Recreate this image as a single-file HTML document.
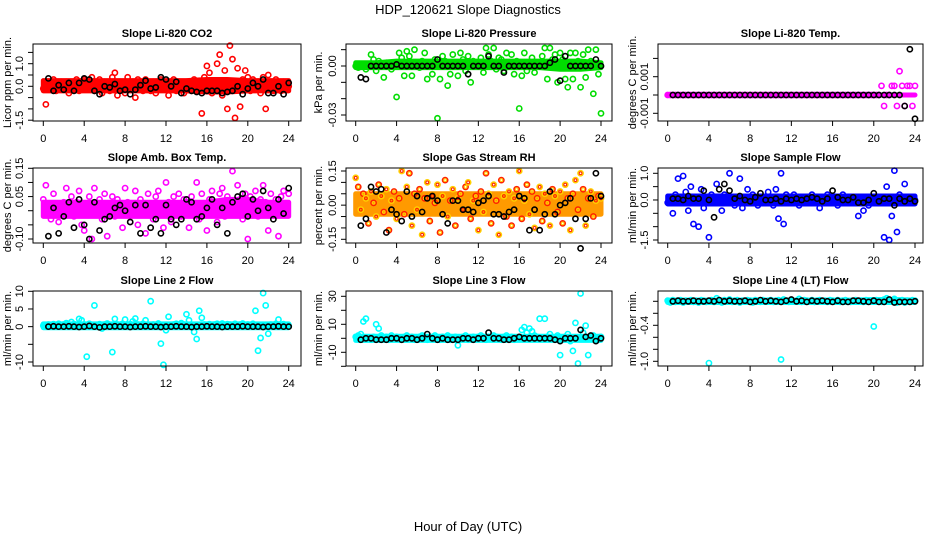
<!DOCTYPE html>
<html><head><meta charset="utf-8"><style>
html,body{margin:0;padding:0;background:#fff;}
svg{display:block;font-family:"Liberation Sans",Arial,sans-serif;}
</style></head><body>
<svg id="chart" width="936" height="540" viewBox="0 0 936 540">
<rect x="0" y="0" width="936" height="540" fill="#fff"/>
<text x="468" y="14" font-size="13" text-anchor="middle">HDP_120621  Slope Diagnostics</text>
<text x="468" y="531" font-size="13" text-anchor="middle">Hour of Day (UTC)</text>
<g id="panels"></g>
</svg>
<script>
// ---- data ----
const xTicks = [0,4,8,12,16,20,24];
const titles = ["Slope Li-820 CO2","Slope Li-820 Pressure","Slope Li-820 Temp.","Slope Amb. Box Temp.","Slope Gas Stream RH","Slope Sample Flow","Slope Line 2 Flow","Slope Line 3 Flow","Slope Line 4 (LT) Flow"];
const yTitles = ["Licor ppm per min.","kPa per min.","degrees C per min.","degrees C per min.","percent per min.","ml/min per min.","ml/min per min.","ml/min per min.","ml/min per min."];
// dense-cloud envelope per panel, at hours 0,2,...,24
const bandHours = [0,2,4,6,8,10,12,14,16,18,20,22,24];
const bandLo = [
[-0.2,-0.2,-0.2,-0.2,-0.2,-0.2,-0.2,-0.2,-0.25,-0.25,-0.2,-0.2,-0.2],
[-0.001,-0.001,-0.001,-0.001,-0.001,-0.001,-0.001,-0.001,-0.001,-0.001,-0.002,-0.002,-0.001],
[0,0,0,0,0,0,0,0,0,0,0,0,0],
[-0.02,-0.02,-0.02,-0.02,-0.02,-0.02,-0.02,-0.02,-0.02,-0.02,-0.02,-0.02,-0.02],
[-0.04,-0.04,-0.04,-0.04,-0.04,-0.04,-0.04,-0.04,-0.04,-0.04,-0.04,-0.04,-0.04],
[-0.15,-0.15,-0.15,-0.15,-0.15,-0.15,-0.15,-0.15,-0.15,-0.15,-0.15,-0.15,-0.15],
[-0.3,-0.3,-0.3,-0.3,-0.3,-0.3,-0.3,-0.3,-0.3,-0.3,-0.3,-0.3,-0.3],
[-1.5,-1.5,-1.5,-1.5,-1.5,-1.5,-1.5,-1.5,-1.5,-1.5,-1.5,-1.5,-1.5],
[-0.02,-0.02,-0.02,-0.02,-0.02,-0.02,-0.02,-0.02,-0.02,-0.02,-0.02,-0.02,-0.02]];
const bandHi = [
[0.25,0.25,0.25,0.25,0.25,0.25,0.25,0.25,0.3,0.3,0.25,0.25,0.25],
[0.002,0.002,0.003,0.003,0.003,0.003,0.003,0.003,0.003,0.003,0.003,0.003,0.002],
[0,0,0,0,0,0,0,0,0,0,0,0,0],
[0.03,0.03,0.03,0.03,0.03,0.03,0.03,0.03,0.03,0.04,0.04,0.03,0.03],
[0.05,0.05,0.05,0.05,0.05,0.05,0.05,0.05,0.05,0.05,0.05,0.05,0.05],
[0.15,0.15,0.15,0.15,0.15,0.15,0.15,0.15,0.15,0.15,0.15,0.15,0.15],
[0.8,0.8,0.8,0.8,0.8,0.8,0.8,0.8,0.8,0.8,0.8,0.8,0.8],
[1.5,1.5,1.5,1.5,1.5,1.5,1.5,1.5,1.5,1.5,1.5,1.5,1.5],
[0.02,0.02,0.02,0.02,0.02,0.02,0.02,0.02,0.02,0.02,0.03,0.03,0.02]];
// colored series sampled every 0.25 h, black series every 0.5 h starting 0.5
const co2Vals = [-0.1,-0.8,0.2,0.1,0.3,-0.2,0.1,0.2,-0.1,0.2,-0.3,0.1,0.2,0.3,-0.2,0.1,
0.3,-0.1,0.2,0.4,-0.2,0.1,0.3,-0.3,0.2,0.1,-0.2,0.4,0.6,-0.4,0.2,0.1,
-0.3,0.4,-0.1,0.2,-0.5,0.3,0.1,-0.2,0.3,0.1,-0.2,0.2,-0.3,0.1,0.3,-0.1,
0.2,-0.4,0.1,0.3,-0.2,0.2,0.1,-0.3,0.2,0.1,-0.2,0.3,0.1,-0.2,-1.2,0.4,
0.9,0.6,-0.3,0.2,1.0,1.4,-0.4,0.7,-1.0,1.8,1.2,-1.4,0.8,-0.9,0.3,0.7,
0.4,-0.2,0.3,0.1,0.2,-0.3,0.4,-1.0,0.5,0.1,-0.2,0.3,0.1,-0.2,0.2,-0.1,0.0];
const co2Black = [0.35,-0.2,0.05,-0.15,0.15,-0.2,0.15,0.35,0.3,-0.2,-0.35,0.0,-0.05,0.1,-0.2,-0.15,-0.35,-0.15,0.05,0.25,-0.1,-0.05,0.4,0.3,0.0,0.2,-0.3,-0.1,-0.2,-0.25,-0.3,-0.2,-0.2,-0.2,-0.3,-0.25,-0.2,0.0,-0.35,-0.1,0.15,0.0,0.3,-0.3,-0.3,0.0,-0.35,0.15];
const presVals = [0.000,-0.001,0.001,0.000,-0.002,0.001,0.007,0.004,-0.003,0.003,0.000,-0.007,0.002,0.001,-0.002,0.001,
-0.019,0.008,0.005,-0.006,0.009,0.006,-0.006,0.010,0.002,-0.001,0.003,0.008,-0.008,0.002,-0.005,0.004,
-0.032,-0.008,0.006,0.003,-0.012,-0.005,0.007,0.002,-0.006,0.008,0.004,-0.003,0.006,-0.010,0.003,0.001,
0.002,0.005,-0.004,0.011,0.007,0.003,0.011,-0.002,0.005,0.004,-0.003,0.008,0.002,0.007,-0.005,0.003,
-0.026,-0.006,0.008,-0.003,0.002,0.005,-0.004,0.001,0.002,0.006,0.011,-0.008,0.011,0.004,0.007,-0.010,
0.008,0.004,-0.008,-0.013,0.008,-0.008,0.008,0.003,-0.013,0.007,-0.007,0.010,0.003,-0.017,0.010,-0.005,-0.029];
const presBlack = [-0.007,-0.008,0,0,0,0,0,0.001,0,0,0,0,0,0,0,0.004,0,0,0,0,0,-0.005,0,0,0,0.006,0,0,-0.004,0,0,0,0,0,0,0,0,0.002,0.004,-0.009,0.006,0,0,0,0,0,0.004,0];
const tempVals = [0,0,0,0,0,0,0,0,0,0,0,0,0,0,0,0,0,0,0,0,0,0,0,0,0,0,0,0,0,0,0,0,0,0,0,0,0,0,0,0,
0,0,0,0,0,0,0,0,0,0,0,0,0,0,0,0,0,0,0,0,0,0,0,0,0,0,0,0,0,0,0,0,0,0,0,0,0,0,0,0,0,0,0,
0.0005,-0.0006,0,0,0.0005,0.0005,-0.0006,0.0013,0.0005,-0.0006,0.0005,0.0005,-0.0006,0.0005];
const tempBlack = [0,0,0,0,0,0,0,0,0,0,0,0,0,0,0,0,0,0,0,0,0,0,0,0,0,0,0,0,0,0,0,0,0,0,0,0,0,0,0,0,0,0,0,0,0,-0.0006,0.0025,-0.0013];
const boxVals = [0.04,0.09,0.02,-0.03,0.06,0.01,-0.04,0.00,0.03,0.08,-0.01,0.05,-0.02,0.03,0.07,-0.05,
-0.07,0.02,0.05,-0.10,0.08,0.00,0.04,-0.03,0.06,-0.09,0.02,0.05,-0.02,0.04,0.01,-0.06,
0.08,0.03,-0.04,0.02,0.07,-0.05,0.04,0.01,-0.08,0.06,0.02,-0.03,0.05,0.07,0.00,-0.06,
0.10,0.03,-0.04,0.05,0.01,0.06,-0.02,0.04,0.03,-0.06,0.05,0.02,0.10,-0.03,0.06,0.01,
-0.07,0.04,0.07,0.02,-0.04,0.06,0.08,-0.02,0.05,0.03,0.14,-0.01,0.09,0.04,-0.03,0.06,
-0.10,0.05,0.02,0.07,-0.02,0.04,0.09,0.03,-0.07,0.06,0.01,0.04,-0.09,0.05,0.07,0.02,0.06];
const boxBlack = [-0.09,0.01,-0.08,-0.02,0.03,-0.06,0.04,-0.05,-0.10,0.03,-0.07,-0.03,-0.02,0.01,0.02,0.00,-0.04,0.02,-0.08,0.02,-0.06,-0.03,-0.08,0.02,-0.03,-0.05,-0.03,0.04,0.03,-0.03,-0.02,0.01,0.04,-0.05,0.01,-0.08,0.03,0.05,0.06,-0.02,0.04,0.00,0.07,0.01,-0.03,0.04,-0.01,0.08];
const rhVals = [0.12,0.08,-0.02,0.05,0.03,-0.08,0.06,0.01,-0.05,0.09,0.04,-0.03,0.07,-0.11,0.02,0.06,
-0.06,0.03,0.15,-0.04,0.08,0.14,-0.09,0.05,-0.02,0.07,-0.13,0.03,0.10,-0.07,0.04,0.01,
0.09,-0.12,0.04,0.11,-0.05,0.02,0.07,-0.09,0.03,0.05,-0.02,0.08,0.10,-0.06,0.02,0.04,
-0.11,0.06,-0.03,0.14,0.05,-0.08,0.09,0.02,-0.13,0.11,0.04,-0.05,0.06,-0.09,0.03,0.07,
0.15,-0.06,0.02,0.09,-0.04,0.06,-0.10,0.03,0.08,-0.07,0.05,0.01,-0.09,0.07,0.04,-0.03,
0.06,-0.08,0.09,0.03,-0.11,0.05,0.11,-0.02,0.14,0.07,-0.09,0.03,0.06,-0.05,0.02,0.04,0.03];
const rhBlack = [-0.09,-0.06,0.08,0.06,0.07,-0.12,-0.02,-0.04,-0.07,0.06,-0.05,0.04,-0.03,0.03,0.04,0.02,-0.04,-0.08,0.02,0.02,-0.02,-0.02,-0.03,0.01,0.02,0.04,-0.04,-0.04,-0.05,-0.03,-0.02,0.04,0.03,-0.11,-0.02,-0.11,-0.04,0.06,-0.04,0.00,0.01,0.03,-0.06,-0.19,-0.06,0.03,0.14,0.04];
const flowVals = [-0.1,0.1,-0.5,0.2,0.8,-0.1,0.9,0.3,-0.4,0.5,-0.9,0.1,-1.0,0.4,-0.3,0.1,
-1.4,0.2,-0.1,0.6,0.1,-0.4,0.2,-0.1,1.0,0.1,-0.2,0.1,0.8,-0.3,0.1,0.4,
-0.1,0.2,0.1,-0.2,0.1,0.0,-0.1,0.3,0.1,-0.2,0.4,-0.7,1.0,-0.9,0.2,0.1,
-0.1,0.2,0.1,-0.2,0.1,0.0,-0.1,0.1,0.2,-0.1,0.1,-0.3,0.1,-0.1,0.2,-0.1,
0.0,0.1,-0.2,0.1,0.2,-0.1,0.1,-0.1,0.1,0.0,-0.6,0.1,-0.4,0.1,-0.2,0.1,
0.1,-0.1,0.0,0.1,-1.4,0.5,-1.5,-0.6,1.1,-1.2,0.2,0.1,0.6,-0.1,0.1,0.1,0.0];
const flowBlack = [0.05,0.05,0.0,0.15,0.05,0.05,0.35,0.0,-0.65,0.4,0.6,0.35,0.05,0.15,0.0,-0.05,0.1,0.25,0.0,0.0,0.05,-0.05,0.05,0.0,0.05,0.0,0.05,0.1,0.05,-0.05,0.05,0.35,0.1,0.0,0.0,0.1,-0.1,-0.1,0.0,0.25,-0.05,0.05,0.05,-0.2,0.05,-0.05,0.05,-0.05];
const line2Vals = [0.3,0.5,0.6,0.2,0.7,0.4,0.8,0.5,0.6,1.0,0.4,1.3,0.7,0.5,2.2,1.8,
0.6,-8.5,0.8,0.3,6.0,0.5,0.7,-0.5,0.6,0.9,0.4,-7.2,2.2,0.6,0.5,0.8,
2.0,0.4,0.7,1.5,2.3,0.6,0.5,0.8,1.8,0.4,7.2,0.6,0.5,0.9,-4.8,-10.8,
-1.0,2.8,0.5,0.6,0.8,0.4,1.0,0.6,3.5,1.8,0.5,-1.5,-3.5,4.5,2.5,0.6,
0.4,0.7,0.5,0.6,0.8,0.4,0.9,0.5,0.7,0.6,0.4,0.8,0.5,0.6,0.9,0.4,
0.6,0.5,0.8,4.5,-6.8,-3.2,9.5,6.0,-2.0,0.6,0.5,0.8,2.0,0.5,0.7,0.4,0.3];
const line2Black = [0,0.1,0,0,0.1,0,-0.1,0,0.2,0,-0.2,0,0,0.1,0,0,-0.1,0,0,0.1,0,0,-0.1,0,0,0.1,0,0,-0.1,0,0,0.1,0,0,-0.1,0,0,0,0.1,0,0,0,-0.1,0,0,0.1,0,0];
const line3Vals = [1,2,3,12,14,0,-1,1,10,7,2,0,1,-1,2,0,
1,0,-1,1,2,0,1,-1,0,1,2,0,-1,1,0,2,
0,-1,1,0,2,-1,0,1,-5,0,1,2,-1,0,1,0,
1,2,0,-1,1,0,2,1,0,-1,1,2,0,1,-1,0,
0,6,8,4,7,5,2,1,14,0,14,1,3,0,-1,2,
-12,0,1,3,-2,-9,11,-18,32,4,9,-12,1,2,0,-1,1];
const line3Black = [-1,0,0,-1,-1,-1,0,0,-1,0,0,-1,0,3,0,-1,0,-1,-1,-1,0,0,-1,0,0,4,0,0,-1,-1,0,1,0,0,0,0,0,0,-1,-2,0,0,0,6,1,2,-2,0];
const line4Vals = [0.01,-0.02,0.02,-0.01,0.01,0.02,-0.02,0.01,0.00,0.02,-0.01,0.01,-0.02,0.02,0.01,-0.01,
-1.03,0.02,-0.01,0.05,0.01,-0.02,0.02,0.00,0.03,-0.01,0.01,0.02,-0.02,0.01,0.00,0.02,
0.01,-0.02,0.02,0.01,-0.01,0.02,0.00,0.01,0.02,-0.01,0.01,0.02,-0.97,0.03,0.01,-0.01,
0.02,0.00,0.01,0.04,-0.01,0.02,0.01,0.00,0.02,-0.01,0.01,0.02,0.00,0.01,-0.01,0.02,
0.01,0.00,0.02,-0.01,0.01,0.02,0.00,-0.01,0.01,0.02,0.00,0.01,-0.01,0.02,0.01,0.00,
-0.42,0.02,0.01,-0.01,0.03,0.05,0.02,0.00,0.04,-0.02,0.01,0.02,-0.02,0.01,0.00,0.02,0.01];
const line4Black = [0.00,0.01,0.00,0.00,0.01,0.00,0.00,0.01,0.00,0.02,0.00,0.01,0.00,0.00,0.01,-0.01,0.00,0.02,0.00,0.01,0.00,-0.01,0.01,0.03,0.00,0.01,-0.01,0.01,0.00,0.01,0.00,-0.01,0.01,-0.01,-0.01,0.01,0.01,0.00,-0.01,0.01,-0.01,-0.01,0.03,-0.02,-0.01,-0.01,-0.01,0.00];
const yTicks = [[1.5,1.0,0.5,0,-0.5,-1.0,-1.5],[0.01,0,-0.01,-0.02,-0.03],[0.002,0.001,0,-0.001],[0.15,0.10,0.05,0,-0.05,-0.10],[0.15,0.10,0.05,0,-0.05,-0.10,-0.15],[1.0,0.5,0,-0.5,-1.0,-1.5],[10,5,0,-5,-10],[30,20,10,0,-10,-20],[0,-0.2,-0.4,-0.6,-0.8,-1.0]];
const yLabels = [[["1.0",1.0],["0.0",0],["-1.5",-1.5]],[["0.00",0],["-0.03",-0.03]],[["0.001",0.001],["-0.001",-0.001]],[["0.15",0.15],["0.05",0.05],["-0.10",-0.10]],[["0.15",0.15],["0.00",0],["-0.15",-0.15]],[["1.0",1.0],["0.0",0],["-1.5",-1.5]],[["10",10],["5",5],["0",0],["-10",-10]],[["30",30],["10",10],["-10",-10]],[["-0.4",-0.4],["-1.0",-1.0]]];
const colorSeries = [co2Vals,presVals,tempVals,boxVals,rhVals,flowVals,line2Vals,line3Vals,line4Vals];
const blackSeries = [co2Black,presBlack,tempBlack,boxBlack,rhBlack,flowBlack,line2Black,line3Black,line4Black];

// ---- layout ----
const colColors = ["#ff0000","#00dd00","#ff00ff","#ff00ff","rh","#0000ff","#00ffff","#00ffff","#00ffff"];
const colBox = [[33,301,43.3,288.7],[346,612,355.7,601],[658,923,667.7,915]];
const rowBox = [[44,121],[168,243],[291,366]];
const yScale = [[1.0,63.7,0,86.3],[0,66,-0.03,115],[0.001,76.7,-0.001,113.3],[0.15,168.3,-0.10,239],[0.15,171,-0.15,239.3],[1.0,173.3,-1.5,240],[10,291.3,-10,362],[30,296.3,-10,352.3],[0,301.3,-1.0,361.3]];
const ytX = [8,319,633];
const NS="http://www.w3.org/2000/svg";
const root=document.getElementById('panels');
function mk(tag,attrs,parent){const e=document.createElementNS(NS,tag);for(const k in attrs)e.setAttribute(k,attrs[k]);parent.appendChild(e);return e;}

for(let p=0;p<9;p++){
  const c=p%3,r=Math.floor(p/3);
  const [L,R,x0,x24]=colBox[c];const [T,B]=rowBox[r];
  const sx=h=>x0+(x24-x0)*h/24;
  const [va,pa,vb,pb]=yScale[p];
  const sy=v=>pa+(v-va)*(pb-pa)/(vb-va);
  const g=mk('g',{},root);
  
  
  const t=mk('text',{x:(L+R)/2,y:T-7,'font-size':11,'font-weight':'bold','text-anchor':'middle'},g);t.textContent=titles[p];
  
  
  const cy=(T+B)/2;
  const yt=mk('text',{x:ytX[c],y:cy,'font-size':11,'text-anchor':'middle',transform:`rotate(-90 ${ytX[c]} ${cy})`,'dominant-baseline':'central'},g);yt.textContent=yTitles[p];
  
  
  const baseCol = colColors[p]==='rh' ? '#ff9a00' : colColors[p];
  const top=bandHours.map((h,i)=>sx(h)+','+sy(bandHi[p][i]));
  const bot=bandHours.map((h,i)=>sx(h)+','+sy(bandLo[p][i])).reverse();
  const band=mk('polygon',{points:top.concat(bot).join(' '),fill:baseCol,stroke:baseCol,'stroke-width':5,'stroke-linejoin':'round'},g);
  
  
  const pts=mk('g',{fill:'none','stroke-width':1.6},g);
  
  
  colorSeries[p].forEach((v,i)=>{
    let col=colColors[p];
    if(col==='rh') col=(i%2?'#ff2000':'#ffd000');
    const e=mk('circle',{cx:sx(i*0.25),cy:sy(v),r:2.6,stroke:col},pts);
    
    
    if(colColors[p]==='rh'){const e2=mk('circle',{cx:sx(i*0.25),cy:sy(v),r:1.4,stroke:i%2?'#ffd000':'#ff2000','stroke-width':1},pts);
      
      }
  });
  const bp=mk('g',{fill:'none',stroke:'#000','stroke-width':1.6},g);
  
  
  blackSeries[p].forEach((v,i)=>{
    const e=mk('circle',{cx:sx(0.5+i*0.5),cy:sy(v),r:2.6},bp);
    
    
  });
  const bx=mk('rect',{x:L,y:T,width:R-L,height:B-T,fill:'none',stroke:'#000','stroke-width':1},g);
  
  
  const xa=mk('g',{stroke:'#000','stroke-width':1},g);
  
  
  mk('line',{x1:sx(0),x2:sx(24),y1:B,y2:B},xa);
  xTicks.forEach(h=>{
    mk('line',{x1:sx(h),x2:sx(h),y1:B,y2:B+5},xa);
    const tl=mk('text',{x:sx(h),y:B+21,'font-size':11,'text-anchor':'middle',stroke:'none',fill:'#000'},g);tl.textContent=h;
    
    
  });
  const ya=mk('g',{stroke:'#000','stroke-width':1},g);
  
  
  const tk=yTicks[p];
  mk('line',{x1:L,x2:L,y1:sy(tk[0]),y2:sy(tk[tk.length-1])},ya);
  tk.forEach(v=>mk('line',{x1:L-5,x2:L,y1:sy(v),y2:sy(v)},ya));
  yLabels[p].forEach(([s,v])=>{
    const lx=L-10,ly=sy(v);
    const tl=mk('text',{x:lx,y:ly,'font-size':11,'text-anchor':'middle',transform:`rotate(-90 ${lx} ${ly})`},g);tl.textContent=s;
    
    
  });
}
</script>
</body></html>
